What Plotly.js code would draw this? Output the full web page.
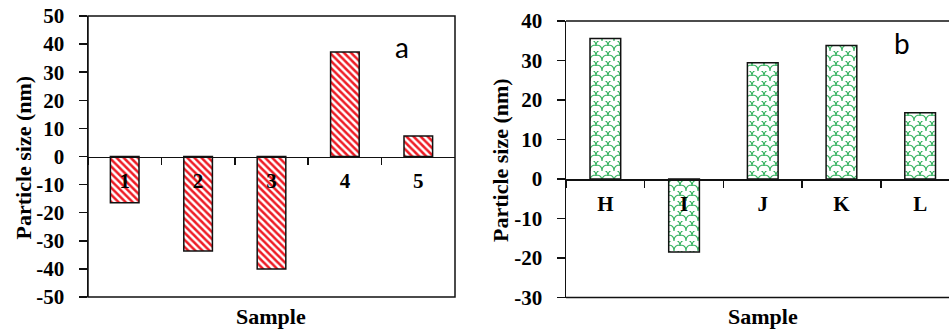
<!DOCTYPE html>
<html>
<head>
<meta charset="utf-8">
<script src="https://cdn.plot.ly/plotly-3.0.1.min.js"></script>
<style>
  html, body { margin: 0; padding: 0; background: #fff; }
  #chart { width: 949px; height: 333px; }
</style>
</head>
<body>
<div id="chart"></div>
<script>
// Panel (a): samples 1-5
const samplesA = ['1', '2', '3', '4', '5'];
const sizesA = [-16.5, -33.6, -40.0, 37.2, 7.3];

// Panel (b): samples H-L
const samplesB = ['H', 'I', 'J', 'K', 'L'];
const sizesB = [35.6, -18.5, 29.4, 33.8, 16.8];

const yTicksA = [-50, -40, -30, -20, -10, 0, 10, 20, 30, 40, 50];
const yTicksB = [-30, -20, -10, 0, 10, 20, 30, 40];

const serif = 'Liberation Serif, Times New Roman, serif';
const W = 949, H = 333;

// plot-area geometry in pixels
const boxA = { l: 88, r: 455, t: 16, b: 297 };
const boxB = { l: 566, r: 949, t: 21, b: 297.5 };
const rangeA = [-50, 50];
const rangeB = [-30, 40];

const dom = (box) => ({
  x: [box.l / W, box.r / W],
  y: [1 - box.b / H, 1 - box.t / H]
});
const dA = dom(boxA), dB = dom(boxB);
// put the category axis on the zero line
const zeroPos = (d, r) => d.y[0] + (0 - r[0]) / (r[1] - r[0]) * (d.y[1] - d.y[0]);

const tickFont = { family: serif, size: 21, color: '#000', weight: 'bold' };
const titleFont = { family: serif, size: 22, color: '#000', weight: 'bold' };
const letterFont = { family: 'Lato, Open Sans, sans-serif', size: 28, color: '#000' };

const traces = [
  {
    type: 'bar', x: samplesA, y: sizesA, xaxis: 'x', yaxis: 'y',
    marker: {
      color: '#fff',
      line: { color: '#111', width: 1.5 },
      pattern: { shape: '\\', fgcolor: '#ee1c25', bgcolor: '#ffffff', size: 5, solidity: 0.5 }
    },
    hoverinfo: 'x+y'
  },
  {
    type: 'bar', x: samplesB, y: sizesB, xaxis: 'x2', yaxis: 'y2',
    marker: {
      color: '#fff',
      line: { color: '#111', width: 1.5 },
      pattern: { shape: 'x', fgcolor: '#2fb35a', bgcolor: '#ffffff', size: 10, solidity: 0.1 }
    },
    hoverinfo: 'x+y'
  }
];

const catAxis = (d, r) => ({
  domain: d.x,
  anchor: 'free',
  position: zeroPos(d, r),
  type: 'category',
  range: [-0.5, 4.5],
  showline: true, linecolor: '#111', linewidth: 1.5,
  ticks: 'outside', tickson: 'boundaries', ticklen: 7, tickwidth: 1.5, tickcolor: '#111',
  ticklabelstandoff: 5,
  tickfont: tickFont,
  showgrid: false, zeroline: false, fixedrange: true
});

const valAxis = (d, r, ticks, anchorX) => ({
  domain: d.y,
  anchor: anchorX,
  range: r,
  tickvals: ticks,
  ticktext: ticks.map(String),
  showline: true, linecolor: '#111', linewidth: 1.5,
  ticks: 'outside', ticklen: 8, tickwidth: 1.5, tickcolor: '#111',
  ticklabelstandoff: 10,
  tickfont: tickFont,
  showgrid: false, zeroline: false, fixedrange: true
});

const xB = catAxis(dB, rangeB);
xB.range = [-0.5, -0.5 + (boxB.r - boxB.l) / 78.7];

const label = (text, px, py, font, angle) => ({
  text, xref: 'paper', yref: 'paper', x: px / W, y: 1 - py / H,
  xanchor: 'center', yanchor: 'middle', showarrow: false, font, textangle: angle || 0
});

const layout = {
  width: W, height: H,
  margin: { l: 0, r: 0, t: 0, b: 0, pad: 0 },
  paper_bgcolor: '#fff', plot_bgcolor: 'rgba(0,0,0,0)',
  showlegend: false,
  bargap: 0.61,
  xaxis: catAxis(dA, rangeA),
  yaxis: valAxis(dA, rangeA, yTicksA, 'x'),
  xaxis2: xB,
  yaxis2: valAxis(dB, rangeB, yTicksB, 'x2'),
  shapes: [
    // frame of panel (a)
    { type: 'rect', xref: 'x domain', yref: 'y domain', x0: 0, x1: 1, y0: 0, y1: 1,
      line: { color: '#111', width: 1.5 }, layer: 'above' },
    // top and bottom edges of panel (b)
    { type: 'line', xref: 'x2 domain', yref: 'y2 domain', x0: 0, x1: 1, y0: 1, y1: 1,
      line: { color: '#111', width: 1.5 }, layer: 'above' },
    { type: 'line', xref: 'x2 domain', yref: 'y2 domain', x0: 0, x1: 1, y0: 0, y1: 0,
      line: { color: '#111', width: 1.5 }, layer: 'above' }
  ],
  annotations: [
    label('Particle size (nm)', 23, 157.5, titleFont, -90),
    label('Particle size (nm)', 500, 160, titleFont, -90),
    label('Sample', 271, 316, titleFont),
    label('Sample', 763, 316, titleFont),
    label('a', 402, 47, letterFont),
    label('b', 902, 43, letterFont)
  ]
};

// green fish-scale fill for the panel (b) bars
function applyScaleFill(gd) {
  const svg = gd.querySelector('svg.main-svg');
  if (!svg) return;
  const ns = 'http://www.w3.org/2000/svg';
  let defs = svg.querySelector('defs');
  if (!defs) { defs = document.createElementNS(ns, 'defs'); svg.insertBefore(defs, svg.firstChild); }
  const pat = document.createElementNS(ns, 'pattern');
  pat.setAttribute('id', 'scaleFill');
  pat.setAttribute('patternUnits', 'userSpaceOnUse');
  pat.setAttribute('width', '12');
  pat.setAttribute('height', '10');
  const bg = document.createElementNS(ns, 'rect');
  bg.setAttribute('width', '12'); bg.setAttribute('height', '10'); bg.setAttribute('fill', '#fff');
  pat.appendChild(bg);
  const p = document.createElementNS(ns, 'path');
  p.setAttribute('d',
    'M0,10 C0,5 3,4 6,4 C9,4 12,5 12,10 ' +
    'M-6,5 C-6,0 -3,-1 0,-1 C3,-1 6,0 6,5 ' +
    'M6,5 C6,0 9,-1 12,-1 C15,-1 18,0 18,5');
  p.setAttribute('fill', 'none');
  p.setAttribute('stroke', '#2eb05a');
  p.setAttribute('stroke-width', '1.1');
  pat.appendChild(p);
  defs.appendChild(pat);
  gd.querySelectorAll('.subplot.x2y2 .bars .point path').forEach(el => {
    el.style.fill = 'url(#scaleFill)';
  });
}

const gd = document.getElementById('chart');
Plotly.newPlot(gd, traces, layout, { staticPlot: true, displayModeBar: false })
  .then(applyScaleFill);
</script>
</body>
</html>
